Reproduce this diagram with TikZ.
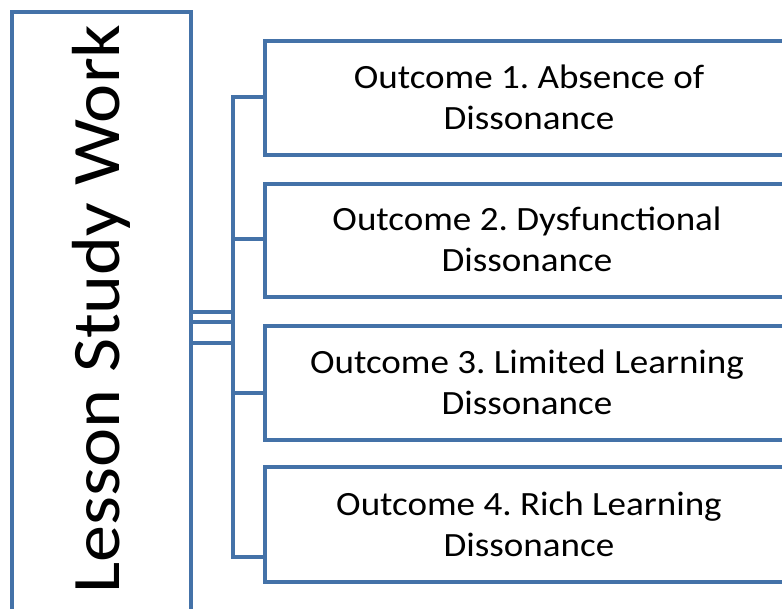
\documentclass[tikz,border=0pt]{standalone}
\usepackage{fontspec}
\setmainfont[FakeStretch=1.09]{Carlito}
\frenchspacing
\definecolor{sablue}{RGB}{68,114,168}
\begin{document}
\begin{tikzpicture}[x=1pt,y=-1pt,
  box/.style={draw=sablue,line width=4pt,fill=white,inner sep=0pt},
  conn/.style={draw=sablue,line width=4pt,line join=miter},
  outtext/.style={align=center,font=\fontsize{34pt}{41pt}\selectfont,text=black}]
\useasboundingbox (0,0) rectangle (782,608);
% left box
\node[box,minimum width=178.5pt,minimum height=610pt] (lsw) at (101.25,317) {};
\node[rotate=90,anchor=base,font=\fontsize{68pt}{74pt}\selectfont] (lswt) at (119,309) {Lesson Study Work};
% right boxes
\node[box,minimum width=530pt,minimum height=114pt] (b1) at (530,98) {};
\node[box,minimum width=530pt,minimum height=113pt] (b2) at (530,240.5) {};
\node[box,minimum width=530pt,minimum height=114pt] (b3) at (530,383) {};
\node[box,minimum width=530pt,minimum height=115pt] (b4) at (530,524.5) {};
\node[outtext] (t1) at (529,97) {Outcome 1. Absence of\\Dissonance};
\node[outtext] (t2) at (527,239) {Outcome 2. Dysfunctional\\Dissonance};
\node[outtext] (t3) at (527,382) {Outcome 3. Limited Learning\\Dissonance};
\node[outtext] (t4) at (529,524) {Outcome 4. Rich Learning\\Dissonance};
% connector points
\coordinate (k1) at (233,97);
\coordinate (k2) at (233,239);
\coordinate (k3) at (233,393);
\coordinate (k4) at (233,557);
\coordinate (s1) at (233,312);
\coordinate (s2) at (233,322);
\coordinate (s3) at (233,343);
\draw[conn] (b1.west |- k1) -- (k1) -- (k4) -- (b4.west |- k4);
\draw[conn] (k2) -- (b2.west |- k2);
\draw[conn] (k3) -- (b3.west |- k3);
\draw[conn] (lsw.east |- s1) -- (s1);
\draw[conn] (lsw.east |- s2) -- (s2);
\draw[conn] (lsw.east |- s3) -- (s3);
\end{tikzpicture}
\end{document}
